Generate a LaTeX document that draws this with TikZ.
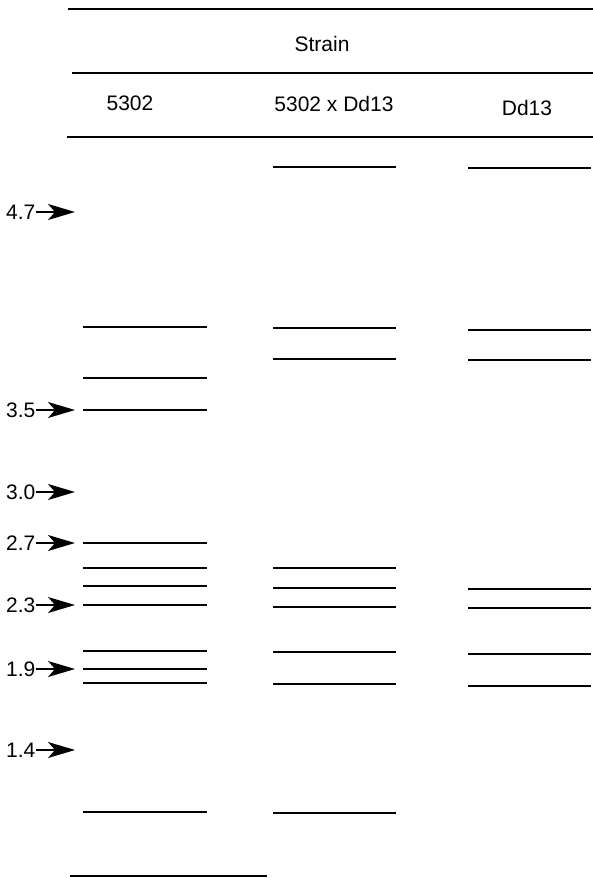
\documentclass[tikz,border=0pt]{standalone}
\usepackage{fontspec}
\setmainfont{Liberation Sans}
\usetikzlibrary{arrows.meta}
\begin{document}
\begin{tikzpicture}[x=1pt, y=-1pt, every node/.style={font=\fontsize{21}{24}\selectfont, inner sep=0pt},
    band/.style={line width=1.6pt},
    heavyband/.style={line width=2.6pt},
    rule/.style={line width=1.4pt},
    marker/.style={-{Stealth[length=27pt,width=16pt,inset=7pt]}, line width=1.5pt}]
        \useasboundingbox (0,0) rectangle (593,878);
        % table head
        \draw[rule] (68,9) -- (593,9);
        \draw[rule] (72,73) -- (593,73);
        \draw[rule] (67,137) -- (593,137);
        \node (strain) at (322,44) {Strain};
        \node (parent) at (130,103) {5302};
        \node (cross) at (334,104) {5302 x Dd13};
        \node (donor) at (527,108) {Dd13};
        % size markers (kb)
        \foreach \y/\kb [count=\i] in {212/4.7, 410/3.5, 492/3.0, 543/2.7, 605/2.3, 669/1.9, 750/1.4} {
            \node[anchor=west] (size\i) at (6,\y) {\kb};
            \coordinate (tip\i) at (75,\y);
            \draw[marker] (size\i.east) -- (tip\i);
        }
        % lane 5302
        \foreach \y in {378, 410, 543, 586, 605, 651, 669, 683, 812}
            \draw[band] (83,\y) -- (207,\y);
        \foreach \y in {327, 568}
            \draw[heavyband] (83,\y) -- (207,\y);
        \draw[band] (70,876) -- (267,876);
        % lane 5302 x Dd13
        \foreach \y in {167, 359, 568, 607, 684, 813}
            \draw[band] (273,\y) -- (396,\y);
        \foreach \y in {328, 588, 652}
            \draw[heavyband] (273,\y) -- (396,\y);
        % lane Dd13
        \foreach \y in {168, 360, 608, 654, 686}
            \draw[band] (468,\y) -- (591,\y);
        \foreach \y in {330, 589}
            \draw[heavyband] (468,\y) -- (591,\y);
    \end{tikzpicture}
\end{document}
